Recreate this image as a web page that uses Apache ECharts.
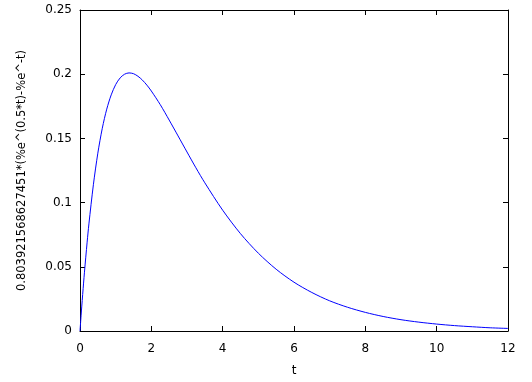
<!DOCTYPE html>
<html><head><meta charset="utf-8">
<script src="https://cdn.jsdelivr.net/npm/echarts@6/dist/echarts.min.js"></script>
<style>html,body{margin:0;padding:0;background:#fff}#c{width:532px;height:382px}</style>
</head><body><div id="c"></div>
<script>
var tValues = [0,0.03,0.05,0.1,0.125,0.2,0.25,0.375,0.5,0.625,0.75,0.875,1,1.125,1.25,1.375,1.5,1.625,1.75,1.875,2,2.25,2.5,2.75,3,3.25,3.5,4,4.5,5,5.5,6,6.5,7,7.5,8,8.5,9,9.5,10,10.5,11,11.5,12];
var yValues = [0,0.0118,0.0194,0.0373,0.0458,0.0692,0.0834,0.1139,0.1385,0.1579,0.1728,0.1839,0.1919,0.1971,0.2000,0.2010,0.2004,0.1984,0.1954,0.1915,0.1869,0.1763,0.1643,0.1519,0.1394,0.1271,0.1154,0.0941,0.0758,0.0606,0.0481,0.0380,0.0300,0.0235,0.0185,0.0145,0.0113,0.0088,0.0069,0.0054,0.0042,0.0033,0.0025,0.0020];
var xTicks = [0,2,4,6,8,10,12];
var yTicks = [0,0.05,0.1,0.15,0.2,0.25];
var yName = '0.803921568627451*(%e^(0.5*t)-%e^-t)';
var xName = 't';

var font = 'DejaVu Sans';
var axisLine = {show:true, onZero:false, lineStyle:{color:'#000', width:1}};
var tick = {show:true,inside:true,length:5,lineStyle:{color:'#000'}};
var chart = echarts.init(document.getElementById('c'));
var data = tValues.map(function(t,i){return [t, yValues[i]];});
chart.setOption({
  animation:false,
  grid:{left:80,right:24,top:10,bottom:51},
  xAxis:[{
    type:'value', min:0, max:12, interval:2, position:'bottom',
    name:xName, nameLocation:'middle', nameGap:34,
    nameTextStyle:{fontFamily:font,fontSize:12,color:'#000'},
    axisLine:axisLine, axisTick:tick,
    axisLabel:{fontFamily:font,fontSize:12,color:'#000',margin:12},
    splitLine:{show:false}
  },{
    type:'value', min:0, max:12, interval:2, position:'top',
    axisLine:axisLine, axisTick:tick,
    axisLabel:{show:false}, splitLine:{show:false}
  }],
  yAxis:[{
    type:'value', min:0, max:0.25, interval:0.05, position:'left',
    name:yName, nameLocation:'middle', nameGap:52,
    nameTextStyle:{fontFamily:font,fontSize:11.5,color:'#000'},
    axisLine:axisLine, axisTick:tick,
    axisLabel:{fontFamily:font,fontSize:12,color:'#000',margin:8,
      formatter:function(v){return String(+v.toFixed(2));}},
    splitLine:{show:false}
  },{
    type:'value', min:0, max:0.25, interval:0.05, position:'right',
    axisLine:axisLine, axisTick:tick,
    axisLabel:{show:false}, splitLine:{show:false}
  }],
  series:[{
    type:'line', data:data, smooth:0.3, showSymbol:false,
    lineStyle:{color:'#0000ff', width:1}, itemStyle:{color:'#0000ff'}
  }]
});
</script></body></html>
